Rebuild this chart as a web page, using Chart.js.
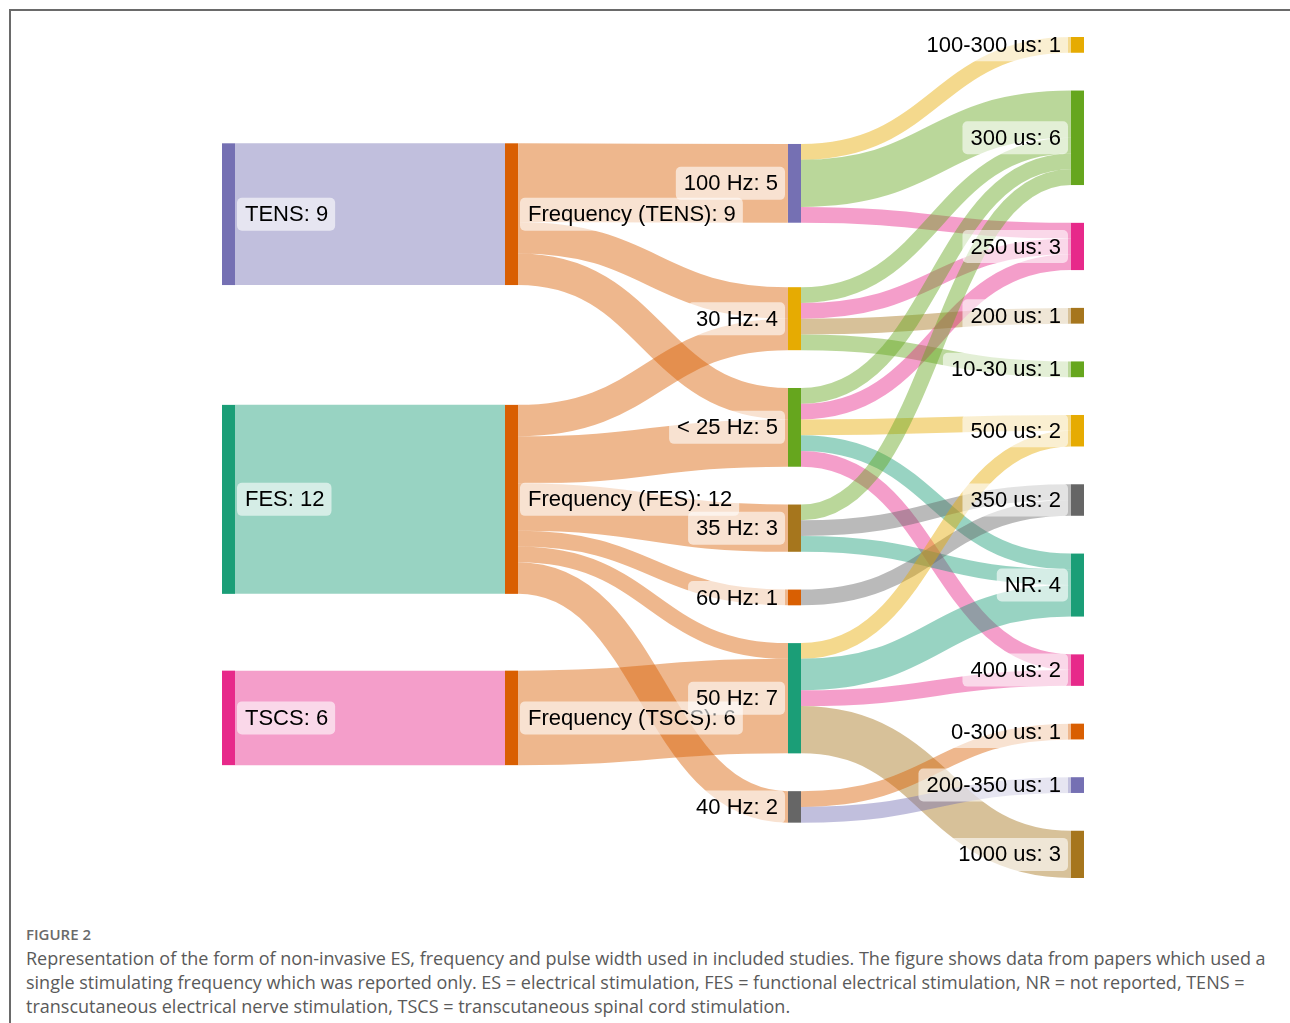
<!DOCTYPE html>
<html>
<head>
<meta charset="utf-8">
<script src="https://cdn.jsdelivr.net/npm/chart.js@4.4.1/dist/chart.umd.min.js"></script>
<style>
  html, body { margin: 0; padding: 0; background: #fff; }
  body { width: 1290px; height: 1023px; position: relative; overflow: hidden; }
  #frame { position: absolute; left: 9px; top: 9px; right: 0; bottom: 0; border-left: 2px solid #6a6a6a; border-top: 2px solid #6a6a6a; }
  #wrap { position: absolute; left: 0; top: 0; width: 1290px; height: 900px; }
  #fig { position: absolute; left: 26px; top: 924px; font: 600 15px "Open Sans", sans-serif; color: #6a6a6a; line-height: 20px; }
  #cap { position: absolute; left: 26px; top: 946px; font: 18px "Open Sans", sans-serif; color: #5a5a5a; line-height: 24px; white-space: nowrap; }
</style>
</head>
<body>
<div id="frame"></div>
<div id="wrap"><canvas id="sankey"></canvas></div>
<div id="fig">FIGURE 2</div>
<div id="cap">Representation of the form of non-invasive ES, frequency and pulse width used in included studies. The figure shows data from papers which used a<br>single stimulating frequency which was reported only. ES = electrical stimulation, FES = functional electrical stimulation, NR = not reported, TENS =<br>transcutaneous electrical nerve stimulation, TSCS = transcutaneous spinal cord stimulation.</div>
<script>
// Nodes (in the order they were entered)
const nodeNames = [
    'TENS', 'FES', 'TSCS',
    'Frequency (TENS)', 'Frequency (FES)', 'Frequency (TSCS)',
    '100 Hz', '30 Hz', '< 25 Hz', '35 Hz', '60 Hz', '50 Hz', '40 Hz',
    '100-300 us', '300 us', '250 us', '200 us', '10-30 us', '500 us', '350 us',
    'NR', '400 us', '0-300 us', '200-350 us', '1000 us'
];

// Flows: from -> to : value
const flowFrom = [
    'TENS', 'FES', 'TSCS',
    'Frequency (TENS)', 'Frequency (TENS)', 'Frequency (TENS)',
    'Frequency (FES)', 'Frequency (FES)', 'Frequency (FES)', 'Frequency (FES)', 'Frequency (FES)', 'Frequency (FES)',
    'Frequency (TSCS)',
    '100 Hz', '100 Hz', '100 Hz',
    '30 Hz', '30 Hz', '30 Hz', '30 Hz',
    '< 25 Hz', '< 25 Hz', '< 25 Hz', '< 25 Hz', '< 25 Hz',
    '35 Hz', '35 Hz', '35 Hz',
    '60 Hz',
    '50 Hz', '50 Hz', '50 Hz', '50 Hz',
    '40 Hz', '40 Hz'
];
const flowTo = [
    'Frequency (TENS)', 'Frequency (FES)', 'Frequency (TSCS)',
    '100 Hz', '30 Hz', '< 25 Hz',
    '30 Hz', '< 25 Hz', '35 Hz', '60 Hz', '50 Hz', '40 Hz',
    '50 Hz',
    '100-300 us', '300 us', '250 us',
    '300 us', '250 us', '200 us', '10-30 us',
    '300 us', '250 us', '500 us', 'NR', '400 us',
    '300 us', '350 us', 'NR',
    '350 us',
    '500 us', 'NR', '400 us', '1000 us',
    '0-300 us', '200-350 us'
];
const flowValue = [
    9, 12, 6,
    5, 2, 2,
    2, 3, 3, 1, 1, 2,
    6,
    1, 3, 1,
    1, 1, 1, 1,
    1, 1, 1, 1, 1,
    1, 1, 1,
    1,
    1, 2, 1, 3,
    1, 1
];

// Node colours (Dark2 palette)
const nodeColors = {
    'TENS': '#7570b3', 'FES': '#1b9e77', 'TSCS': '#e7298a',
    'Frequency (TENS)': '#d95f02', 'Frequency (FES)': '#d95f02', 'Frequency (TSCS)': '#d95f02',
    '100 Hz': '#7570b3', '30 Hz': '#e6ab02', '< 25 Hz': '#66a61e', '35 Hz': '#a6761d',
    '60 Hz': '#d95f02', '50 Hz': '#1b9e77', '40 Hz': '#666666',
    '100-300 us': '#e6ab02', '300 us': '#66a61e', '250 us': '#e7298a', '200 us': '#a6761d',
    '10-30 us': '#66a61e', '500 us': '#e6ab02', '350 us': '#666666', 'NR': '#1b9e77',
    '400 us': '#e7298a', '0-300 us': '#d95f02', '200-350 us': '#7570b3', '1000 us': '#a6761d'
};

const NODE_PAD = 2.4;      // gap between nodes, in flow units
const ITERATIONS = 6;
const DECAY = 0.6;
const NODE_WIDTH = 13;     // px
const FLOW_ALPHA = 0.45;

function hexToRgba(hex, a) {
    const n = parseInt(hex.slice(1), 16);
    return `rgba(${(n >> 16) & 255}, ${(n >> 8) & 255}, ${n & 255}, ${a})`;
}

// Sankey layout in flow units. Nodes keep the entered order; each column starts
// evenly spread and nodes are pulled toward the weighted centre of their neighbours.
function layoutSankey() {
    const nodes = nodeNames.map((name, i) => ({ name, index: i, sourceLinks: [], targetLinks: [] }));
    const byName = {};
    nodes.forEach(n => byName[n.name] = n);
    const links = flowFrom.map((f, i) => ({ index: i, source: byName[f], target: byName[flowTo[i]], value: flowValue[i], width: flowValue[i] }));
    links.forEach(l => { l.source.sourceLinks.push(l); l.target.targetLinks.push(l); });
    const sum = arr => arr.reduce((s, l) => s + l.value, 0);
    nodes.forEach(n => n.value = Math.max(sum(n.sourceLinks), sum(n.targetLinks)));

    // columns
    let current = new Set(nodes.filter(n => n.targetLinks.length === 0));
    let x = 0;
    while (current.size) {
        const next = new Set();
        for (const n of current) {
            n.depth = x;
            for (const l of n.sourceLinks) next.add(l.target);
        }
        current = next; x++;
    }
    const nLayers = x;
    nodes.forEach(n => n.layer = n.sourceLinks.length ? n.depth : nLayers - 1);
    const columns = [];
    for (let i = 0; i < nLayers; i++) columns.push([]);
    nodes.forEach(n => columns[n.layer].push(n));

    const pad = NODE_PAD;
    const H = Math.max(...columns.map(c => c.reduce((s, n) => s + n.value, 0) + (c.length - 1) * pad));

    const byY = (a, b) => a.y0 - b.y0;
    const bySource = (a, b) => byY(a.source, b.source) || a.index - b.index;
    const byTarget = (a, b) => byY(a.target, b.target) || a.index - b.index;
    function reorderLinks() {
        for (const n of nodes) { n.sourceLinks.sort(byTarget); n.targetLinks.sort(bySource); }
    }
    function resolveCollisions(col) {
        let y = 0, n;
        for (n of col) {
            const dy = y - n.y0;
            if (dy > 0) n.y0 += dy;
            y = n.y0 + n.value + pad;
        }
        const over = y - pad - H;
        if (over > 0) {
            y = n.y0 -= over;
            for (let i = col.length - 2; i >= 0; --i) {
                const m = col[i];
                const dy = m.y0 + m.value + pad - y;
                if (dy > 0) m.y0 -= dy;
                y = m.y0;
            }
        }
    }
    const centre = n => n.y0 + n.value / 2;
    function fromLeft(t) {
        let y = 0, w = 0;
        for (const l of t.targetLinks) { y += (centre(l.source) - t.value / 2) * l.value; w += l.value; }
        return w > 0 ? y / w : null;
    }
    function fromRight(s) {
        let y = 0, w = 0;
        for (const l of s.sourceLinks) { y += (centre(l.target) - s.value / 2) * l.value; w += l.value; }
        return w > 0 ? y / w : null;
    }

    // even start
    for (const col of columns) {
        let y = 0;
        for (const n of col) { n.y0 = y; y += n.value + pad; }
        const gap = (H - y + pad) / (col.length + 1);
        col.forEach((n, i) => n.y0 += gap * (i + 1));
    }
    reorderLinks();

    for (let i = 0; i < ITERATIONS; i++) {
        const alpha = Math.pow(DECAY, i + 1);
        for (let k = columns.length - 2; k >= 0; k--) {
            for (const s of columns[k]) {
                const d = fromRight(s);
                if (d !== null) s.y0 += (d - s.y0) * alpha;
            }
            reorderLinks();
            resolveCollisions(columns[k]);
        }
        for (let k = 1; k < columns.length; k++) {
            for (const t of columns[k]) {
                const d = fromLeft(t);
                if (d !== null) t.y0 += (d - t.y0) * alpha;
            }
            reorderLinks();
            resolveCollisions(columns[k]);
        }
    }

    // one-to-one chains stay level with their source
    for (let k = 1; k < columns.length; k++) {
        for (const t of columns[k]) {
            if (t.targetLinks.length === 1 && t.targetLinks[0].source.sourceLinks.length === 1) {
                t.y0 = t.targetLinks[0].source.y0;
            }
        }
        resolveCollisions(columns[k]);
    }
    nodes.forEach(n => n.y1 = n.y0 + n.value);
    reorderLinks();

    // flow positions at both ends
    for (const n of nodes) {
        let a = n.y0, b = n.y0;
        for (const l of n.sourceLinks) { l.y0 = a + l.width / 2; a += l.width; }
        for (const l of n.targetLinks) { l.y1 = b + l.width / 2; b += l.width; }
    }
    return { nodes, links, nLayers, height: H };
}

const graph = layoutSankey();

const sankeyPlugin = {
    id: 'sankeyDraw',
    afterDatasetsDraw(chart) {
        const ctx = chart.ctx;
        const xs = chart.scales.x, ys = chart.scales.y;
        const last = graph.nLayers - 1;
        ctx.save();

        // flows
        for (const l of graph.links) {
            const x0 = xs.getPixelForValue(l.source.layer) + NODE_WIDTH;
            const x1 = xs.getPixelForValue(l.target.layer);
            const ya = ys.getPixelForValue(l.y0);
            const yb = ys.getPixelForValue(l.y1);
            const w = Math.abs(ys.getPixelForValue(l.width) - ys.getPixelForValue(0));
            const xm = (x0 + x1) / 2;
            const col = l.target.layer === last ? nodeColors[l.target.name] : nodeColors[l.source.name];
            ctx.beginPath();
            ctx.moveTo(x0, ya);
            ctx.bezierCurveTo(xm, ya, xm, yb, x1, yb);
            ctx.lineWidth = w;
            ctx.lineCap = 'butt';
            ctx.strokeStyle = hexToRgba(col, FLOW_ALPHA);
            ctx.stroke();
        }

        // nodes
        for (const n of graph.nodes) {
            const x = xs.getPixelForValue(n.layer);
            const top = ys.getPixelForValue(n.y0);
            const bot = ys.getPixelForValue(n.y1);
            ctx.fillStyle = nodeColors[n.name];
            ctx.fillRect(x, top, NODE_WIDTH, bot - top);
        }

        // labels
        ctx.font = '22px "Liberation Sans", Arial, sans-serif';
        ctx.textBaseline = 'middle';
        ctx.textAlign = 'left';
        for (const n of graph.nodes) {
            const text = n.name + ': ' + n.value;
            const x = xs.getPixelForValue(n.layer);
            const cy = (ys.getPixelForValue(n.y0) + ys.getPixelForValue(n.y1)) / 2;
            const tw = ctx.measureText(text).width;
            const boxW = tw + 15, boxH = 33;
            const bx = n.layer < 2 ? x + NODE_WIDTH + 2 : x - 3 - boxW;
            ctx.fillStyle = 'rgba(255, 255, 255, 0.6)';
            ctx.beginPath();
            ctx.roundRect(bx, cy - boxH / 2, boxW, boxH, 5);
            ctx.fill();
            ctx.fillStyle = '#000';
            ctx.fillText(text, bx + 8, cy + 1);
        }
        ctx.restore();
    }
};

new Chart(document.getElementById('sankey'), {
    type: 'scatter',
    data: { datasets: [{ data: [], pointRadius: 0 }] },
    options: {
        responsive: true,
        maintainAspectRatio: false,
        animation: false,
        layout: { padding: { left: 222, right: 219, top: 37, bottom: 22 } },
        scales: {
            x: { type: 'linear', min: 0, max: graph.nLayers - 1, display: false },
            y: { type: 'linear', min: 0, max: graph.height, reverse: true, display: false }
        },
        plugins: { legend: { display: false }, tooltip: { enabled: false } }
    },
    plugins: [sankeyPlugin]
});
</script>
</body>
</html>
